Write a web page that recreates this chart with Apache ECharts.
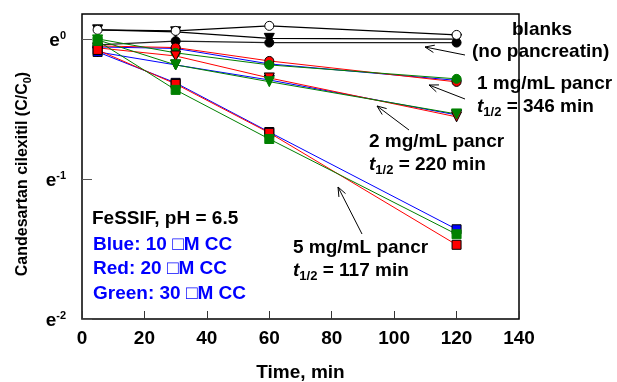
<!DOCTYPE html>
<html><head><meta charset="utf-8">
<script src="https://cdn.jsdelivr.net/npm/echarts@6/dist/echarts.min.js"></script>
<style>html,body{margin:0;padding:0;background:#fff}#c{width:617px;height:382px}</style>
</head><body><div id="c"></div>
<script>
// ---- data (C/C0) ----
const times = [5, 30, 60, 120];
const xTickValues = [0, 20, 40, 60, 80, 100, 120, 140];
const yTickExponents = [-2, -1, 0];

const blankOpen = [1.069, 1.061, 1.100, 1.031];
const blankTri  = [1.069, 1.054, 1.006, 1.000];
const blankDot  = [0.960, 0.986, 0.976, 0.976];

const p1Blue  = [0.946, 0.936, 0.838, 0.745];
const p1Red   = [0.953, 0.942, 0.856, 0.737];
const p1Green = [1.002, 0.907, 0.832, 0.753];

const p2Blue  = [0.913, 0.832, 0.747, 0.582];
const p2Red   = [0.940, 0.887, 0.758, 0.574];
const p2Green = [0.995, 0.832, 0.738, 0.586];

const p5Blue  = [0.913, 0.732, 0.515, 0.257];
const p5Red   = [0.926, 0.726, 0.512, 0.230];
const p5Green = [0.988, 0.696, 0.490, 0.248];

// ---- chart ----
const FF = '"Liberation Sans", Arial, sans-serif';
const FS = 19;
const BLUE = '#0000ff', RED = '#ff0000', GREEN = '#008000';
const chart = echarts.init(document.getElementById('c'), null, {renderer: 'canvas'});

function pts(vals) { return times.map((t, i) => [t, vals[i]]); }
function ser(vals, color, symbol, opt) {
  opt = opt || {};
  return {
    type: 'line', data: pts(vals), symbol: symbol,
    symbolSize: opt.size || 9,
    symbolRotate: opt.rotate || 0,
    lineStyle: {color: opt.line || color, width: opt.lw || 1},
    itemStyle: {color: opt.fill || color, borderColor: opt.border || color, borderWidth: opt.bw == null ? 1 : opt.bw},
    emphasis: {disabled: true}, silent: true, animation: false, z: opt.z || 2
  };
}

function arrow(x1, y1, x2, y2) {
  const a = Math.atan2(y2 - y1, x2 - x1), L = 10, h = 0.38;
  return [
    {type: 'line', shape: {x1, y1, x2, y2}, style: {stroke: '#000', lineWidth: 1}},
    {type: 'polyline', shape: {points: [
      [x2 - L * Math.cos(a - h), y2 - L * Math.sin(a - h)], [x2, y2],
      [x2 - L * Math.cos(a + h), y2 - L * Math.sin(a + h)]]},
      style: {stroke: '#000', lineWidth: 1, fill: null}}
  ];
}
function txt(x, y, text, color, rich) {
  const st = {text, x: 0, y: 0, fill: color || '#000', font: 'bold ' + FS + 'px ' + FF,
    textAlign: 'left', align: 'left', textVerticalAlign: 'middle', verticalAlign: 'middle'};
  if (rich) st.rich = rich;
  return {type: 'text', x, y, style: st, z: 10};
}
const halfRich = {
  t: {fontFamily: FF, fontSize: FS, fontWeight: 'bold', fontStyle: 'italic', lineHeight: 24, verticalAlign: 'middle'},
  s: {fontFamily: FF, fontSize: 13, fontWeight: 'bold', lineHeight: 12, verticalAlign: 'bottom'},
  m: {fontFamily: FF, fontSize: FS, fontWeight: 'bold', lineHeight: 24, verticalAlign: 'middle'}
};
function half(v) { return '{t|t}{s|1/2}{m| = ' + v + ' min}'; }

const option = {
  animation: false,
  backgroundColor: '#fff',
  grid: {left: 82, right: 98, top: 14, bottom: 63, outerBoundsMode: 'none', containLabel: false,
    show: true, borderColor: '#000', borderWidth: 1.5, backgroundColor: 'transparent'},
  xAxis: {
    type: 'value', min: 0, max: 140, interval: 20,
    name: 'Time, min', nameLocation: 'middle', nameGap: 44,
    nameTextStyle: {fontFamily: FF, fontSize: FS, fontWeight: 'bold', color: '#000'},
    axisLine: {show: false},
    axisTick: {show: true, inside: true, length: 8, lineStyle: {color: '#333', width: 1}},
    axisLabel: {fontFamily: FF, fontSize: FS, fontWeight: 'bold', color: '#000', margin: 10,
      formatter: v => xTickValues.indexOf(v) >= 0 ? String(v) : ''},
    splitLine: {show: false}
  },
  yAxis: {
    type: 'log', logBase: Math.E, min: Math.exp(-2), max: Math.exp(0.18), interval: 1,
    axisLine: {show: false},
    axisTick: {show: true, inside: true, length: 10, lineStyle: {color: '#555', width: 1}},
    axisLabel: {
      margin: 16, showMaxLabel: false, padding: [4, 0, 0, 0],
      formatter: function (v) {
        const n = Math.log(v), r = Math.round(n);
        if (Math.abs(n - r) > 0.02 || yTickExponents.indexOf(r) < 0) return '';
        return '{e|e}{s|' + r + '}';
      },
      rich: {
        e: {fontFamily: FF, fontSize: FS, fontWeight: 'bold', color: '#000', lineHeight: 22, verticalAlign: 'middle'},
        s: {fontFamily: FF, fontSize: 11, fontWeight: 'bold', color: '#000', lineHeight: 11, verticalAlign: 'top'}
      }
    },
    splitLine: {show: false}
  },
  series: [
    ser(blankDot, '#000', 'circle', {lw: 1.2, line: '#222'}),
    ser(blankTri, '#000', 'triangle', {rotate: 180, size: 10, lw: 1.2}),
    ser(blankOpen, '#000', 'circle', {fill: '#fff', border: '#000', lw: 1.2}),

    ser(p1Blue, BLUE, 'circle', {border: '#000'}),
    ser(p1Red, RED, 'circle', {border: '#000'}),
    ser(p1Green, GREEN, 'circle', {}),

    ser(p2Blue, BLUE, 'triangle', {rotate: 180, size: 10, border: '#000'}),
    ser(p2Red, RED, 'triangle', {rotate: 180, size: 10, border: '#000'}),
    ser(p2Green, GREEN, 'triangle', {rotate: 180, size: 10}),

    ser(p5Blue, BLUE, 'rect', {border: '#000'}),
    ser(p5Red, RED, 'rect', {border: '#000'}),
    ser(p5Green, GREEN, 'rect', {})
  ],
  graphic: [].concat(
    arrow(465, 55, 425, 47),
    arrow(465, 99, 429, 85),
    arrow(409, 130, 377, 106),
    arrow(362, 234, 338, 187),
    [
      {type: 'text', x: 23, y: 174, rotation: Math.PI / 2, z: 10,
        style: {text: '{n|Candesartan cilexitil (C/C}{b|0}{n|)}', x: 0, y: 0,
          textAlign: 'center', align: 'center', textVerticalAlign: 'middle', verticalAlign: 'middle',
          rich: {
            n: {fontFamily: FF, fontSize: 16, fontWeight: 'bold', fill: '#000', color: '#000', lineHeight: 20, verticalAlign: 'middle'},
            b: {fontFamily: FF, fontSize: 11, fontWeight: 'bold', fill: '#000', color: '#000', lineHeight: 11, verticalAlign: 'bottom'}
          }}},
      txt(512, 30, 'blanks'),
      txt(472, 52, '(no pancreatin)'),
      txt(477, 84, '1 mg/mL pancr'),
      txt(477, 107, half(346), '#000', halfRich),
      txt(369, 142, '2 mg/mL pancr'),
      txt(369, 165, half(220), '#000', halfRich),
      txt(293, 248, '5 mg/mL pancr'),
      txt(293, 271, half(117), '#000', halfRich),
      txt(92, 219, 'FeSSIF, pH = 6.5'),
      txt(93, 245, 'Blue: 10 \u25A1M CC', BLUE),
      txt(93, 269, 'Red: 20 \u25A1M CC', BLUE),
      txt(93, 294, 'Green: 30 \u25A1M CC', BLUE)
    ]
  )
};
chart.setOption(option);
</script>
</body></html>
